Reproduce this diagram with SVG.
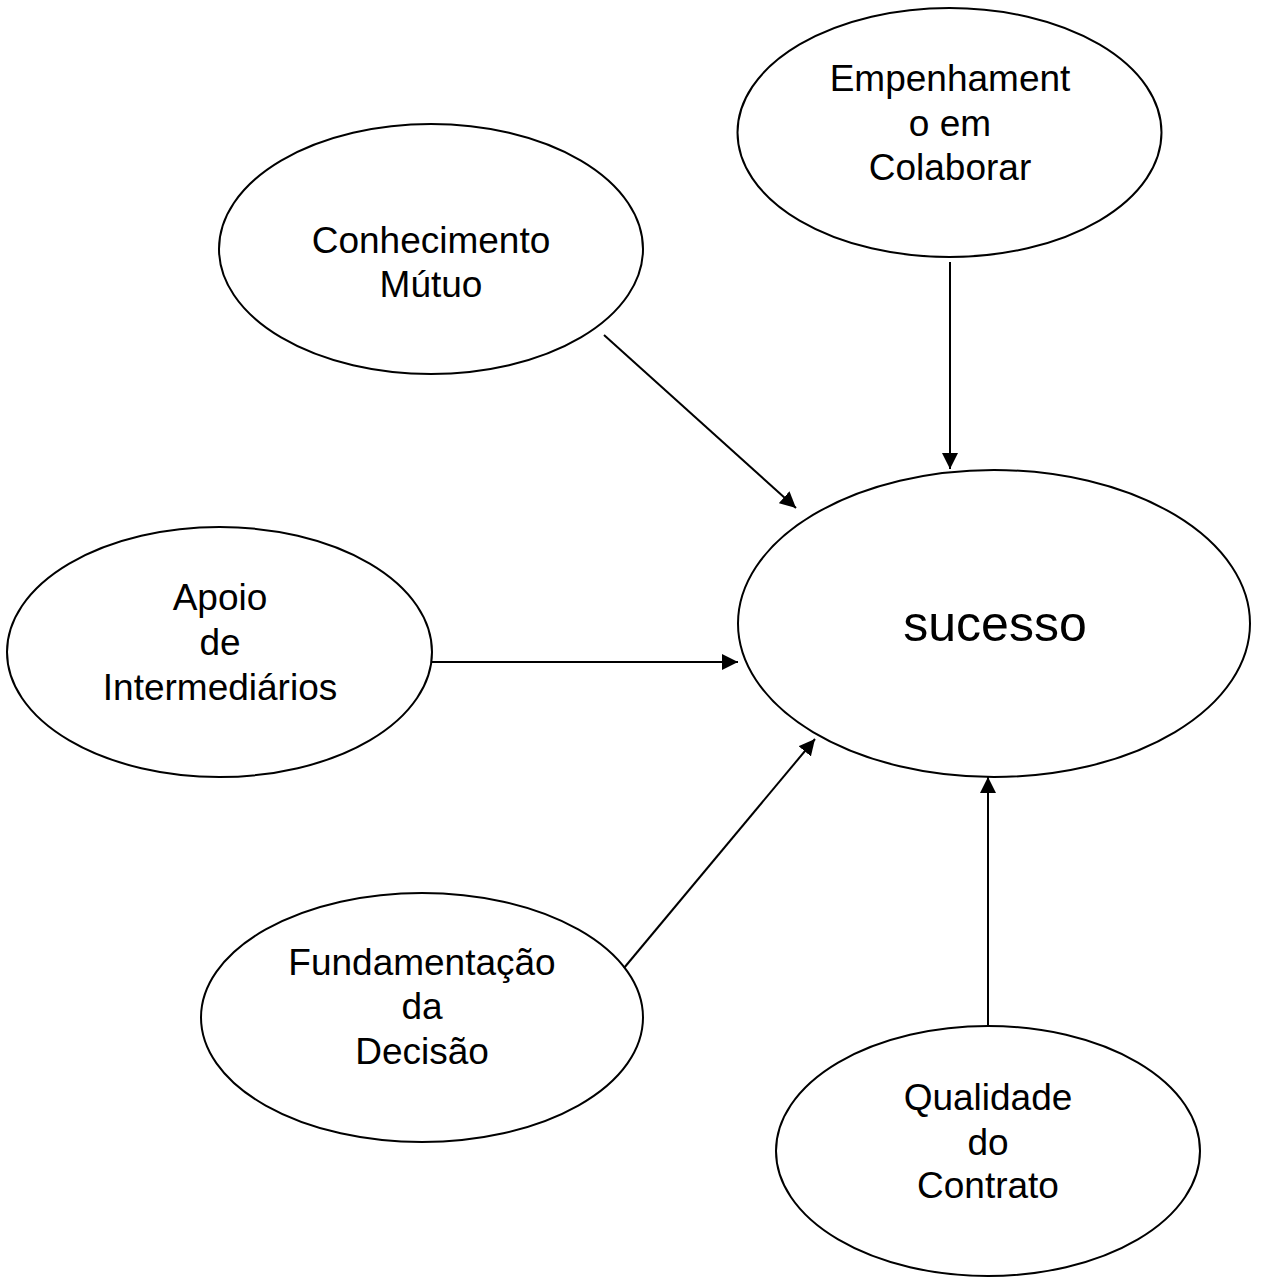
<svg xmlns="http://www.w3.org/2000/svg" width="1279" height="1277" viewBox="0 0 1279 1277">
<style>
ellipse{fill:#fff;stroke:#000;stroke-width:2}
text{font-family:"Liberation Sans",Arial,sans-serif;font-size:37px;fill:#000;text-anchor:middle}
.big{font-size:50px}
line{stroke:#000;stroke-width:2}
</style>
<defs>
<marker id="ah" markerWidth="16" markerHeight="16" refX="16" refY="8" orient="auto" markerUnits="userSpaceOnUse">
<path d="M0,0 L16,8 L0,16 Z" fill="#000"/>
</marker>
</defs>
<rect width="1279" height="1277" fill="#fff"/>
<g id="empenhamento">
<ellipse cx="949.5" cy="132.5" rx="212" ry="124.5"/>
<text x="950" y="91">Empenhament</text>
<text x="950" y="136">o em</text>
<text x="950" y="180">Colaborar</text>
</g>
<g id="conhecimento">
<ellipse cx="431" cy="249" rx="212" ry="125"/>
<text x="431" y="253">Conhecimento</text>
<text x="431" y="297">Mútuo</text>
</g>
<g id="sucesso">
<ellipse cx="994" cy="623.5" rx="256" ry="153.5"/>
<text class="big" x="995" y="641">sucesso</text>
</g>
<g id="apoio">
<ellipse cx="219.5" cy="652" rx="212.5" ry="125"/>
<text x="220" y="610">Apoio</text>
<text x="220" y="655">de</text>
<text x="220" y="700">Intermediários</text>
</g>
<g id="fundamentacao">
<ellipse cx="422" cy="1017.5" rx="221" ry="124.5"/>
<text x="422" y="975">Fundamentação</text>
<text x="422" y="1019">da</text>
<text x="422" y="1064">Decisão</text>
</g>
<g id="qualidade">
<ellipse cx="988" cy="1151" rx="212" ry="125"/>
<text x="988" y="1110">Qualidade</text>
<text x="988" y="1155">do</text>
<text x="988" y="1198">Contrato</text>
</g>
<g id="connectors">
<line x1="604" y1="335" x2="796" y2="508" marker-end="url(#ah)"/>
<line x1="950" y1="262" x2="950" y2="469" marker-end="url(#ah)"/>
<line x1="432" y1="662" x2="738" y2="662" marker-end="url(#ah)"/>
<line x1="624" y1="968" x2="815" y2="739" marker-end="url(#ah)"/>
<line x1="988" y1="1026" x2="988" y2="777" marker-end="url(#ah)"/>
</g>
</svg>
